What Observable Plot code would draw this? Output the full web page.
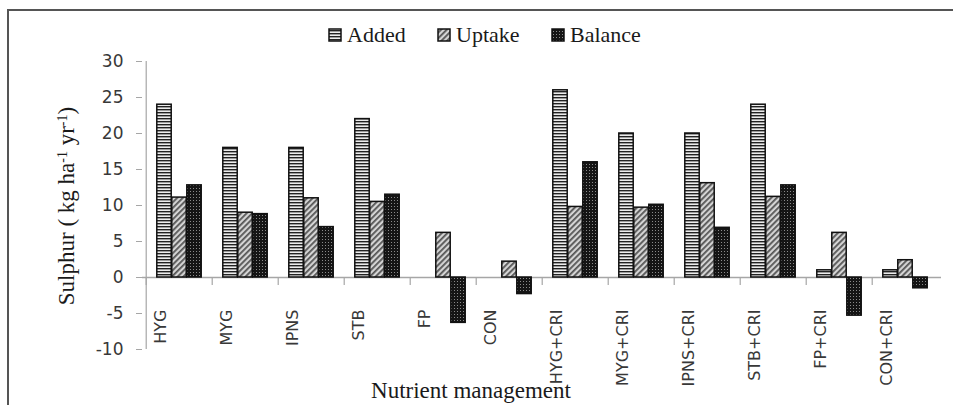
<!DOCTYPE html>
<html><head><meta charset="utf-8">
<script src="https://cdn.jsdelivr.net/npm/d3@7"></script>
<script src="https://cdn.jsdelivr.net/npm/@observablehq/plot@0.6"></script>
<style>
body{margin:0;background:#fff}
#wrap{position:relative;width:953px;height:405px;overflow:hidden;background:#fff}
#frame{position:absolute;left:7px;top:9px;width:1000px;height:500px;border-top:2px solid #555;border-left:2px solid #555;box-sizing:border-box}
#chart{position:absolute;left:0;top:40px}
#annot{position:absolute;left:0;top:0;pointer-events:none}
</style></head>
<body><div id="wrap">
<div id="frame"></div>
<svg id="defs" width="0" height="0" style="position:absolute;left:0;top:0">
<defs>
<pattern id="pAdded" width="4" height="3" patternUnits="userSpaceOnUse">
<rect width="4" height="3" fill="#ececec"/><rect width="4" height="1.4" fill="#222"/>
</pattern>
<pattern id="pUptake" width="4" height="4" patternUnits="userSpaceOnUse" patternTransform="rotate(45)">
<rect width="4" height="4" fill="#d4d4d4"/><rect width="1.8" height="4" fill="#555"/>
</pattern>
<pattern id="pBalance" width="3" height="3" patternUnits="userSpaceOnUse">
<rect width="3" height="3" fill="#151515"/><rect x="1" y="1" width="1" height="1" fill="#8a8a8a"/>
</pattern>
</defs></svg>
<div id="chart"></div>
<svg id="annot" width="953" height="405"></svg>
</div>
<script>
const categories = ["HYG","MYG","IPNS","STB","FP","CON","HYG+CRI","MYG+CRI","IPNS+CRI","STB+CRI","FP+CRI","CON+CRI"];
const seriesNames = ["Added","Uptake","Balance"];
const added   = [24, 18, 18, 22, 0, 0, 26, 20, 20, 24, 1, 1];
const uptake  = [11.1, 9.0, 11.0, 10.5, 6.2, 2.2, 9.8, 9.7, 13.1, 11.2, 6.2, 2.4];
const balance = [12.8, 8.8, 7.0, 11.5, -6.3, -2.3, 16.0, 10.1, 6.9, 12.8, -5.3, -1.5];
const yTicks = [-10, -5, 0, 5, 10, 15, 20, 25, 30];
const yTitle = ["Sulphur ( kg ha", "-1", " yr", "-1", ")"];
const xTitle = "Nutrient management";

const seriesValues = {Added: added, Uptake: uptake, Balance: balance};
const patterns = {Added: "url(#pAdded)", Uptake: "url(#pUptake)", Balance: "url(#pBalance)"};

const rows = categories.flatMap((c, i) => seriesNames.map(s => ({cat: c, series: s, value: seriesValues[s][i]})));

const W = 953, H = 345, mL = 142, mR = 12, mT = 21, mB = 36;
const bw = (W - mL - mR) / categories.length;
const barW = 15;
const pad = (bw - 3 * barW) / 2;

const barMarks = seriesNames.map((s, k) => Plot.barY(rows.filter(d => d.series === s && d.value !== 0), {
  x: "cat", y: "value",
  fill: patterns[s], stroke: "#111", strokeWidth: 1.5,
  insetLeft: pad + k * barW, insetRight: bw - pad - (k + 1) * barW
}));

const chart = Plot.plot({
  width: W, height: H,
  marginLeft: mL, marginRight: mR, marginTop: mT, marginBottom: mB,
  x: {domain: categories, padding: 0, axis: null},
  y: {domain: [-10, 30], axis: null},
  style: {fontFamily: "DejaVu Sans", background: "transparent", overflow: "visible"},
  marks: [
    Plot.ruleX([categories[0]], {x: d => d, dx: -bw / 2, stroke: "#a6a6a6", strokeWidth: 1.2}),
    Plot.ruleY([0], {stroke: "#a6a6a6", strokeWidth: 1.5}),
    Plot.ruleX(categories, {x: d => d, dx: -bw / 2, y1: 0, y2: 0, insetBottom: -8, stroke: "#a6a6a6", strokeWidth: 1.2}),
    Plot.axisY(yTicks, {tickSize: 6, tickPadding: 13, stroke: "#a6a6a6", fill: "#383838", fontSize: 17, label: null, tickFormat: d => String(d)}),
    Plot.axisX({anchor: "bottom", tickSize: 0, tickPadding: 0, tickRotate: -90, dy: -40, dx: -19, fill: "#383838", fontSize: 16, label: null}),
    ...barMarks
  ]
});
document.getElementById("chart").appendChild(chart);

// legend and titles
const annot = d3.select("#annot");
const serif = "'Liberation Serif', 'Times New Roman', serif";
const legX = [329, 438, 552];
seriesNames.forEach((s, k) => {
  annot.append("rect").attr("x", legX[k]).attr("y", 29).attr("width", 12).attr("height", 12)
    .attr("fill", patterns[s]).attr("stroke", "#111").attr("stroke-width", 1.5);
  annot.append("text").attr("x", legX[k] + 18).attr("y", 42)
    .style("font-family", serif).style("font-size", "22px").attr("fill", "#1a1a1a").text(s);
});
const yt = annot.append("text").attr("transform", "translate(74,206) rotate(-90)")
  .attr("text-anchor", "middle").style("font-family", serif).style("font-size", "23px").attr("fill", "#1a1a1a");
yTitle.forEach((t, i) => {
  const ts = yt.append("tspan").text(t);
  if (i % 2 === 1) ts.attr("baseline-shift", "super").style("font-size", "14px");
});
annot.append("text").attr("x", 471).attr("y", 398).attr("text-anchor", "middle")
  .style("font-family", serif).style("font-size", "23px").attr("fill", "#1a1a1a").text(xTitle);
</script>
</body></html>
